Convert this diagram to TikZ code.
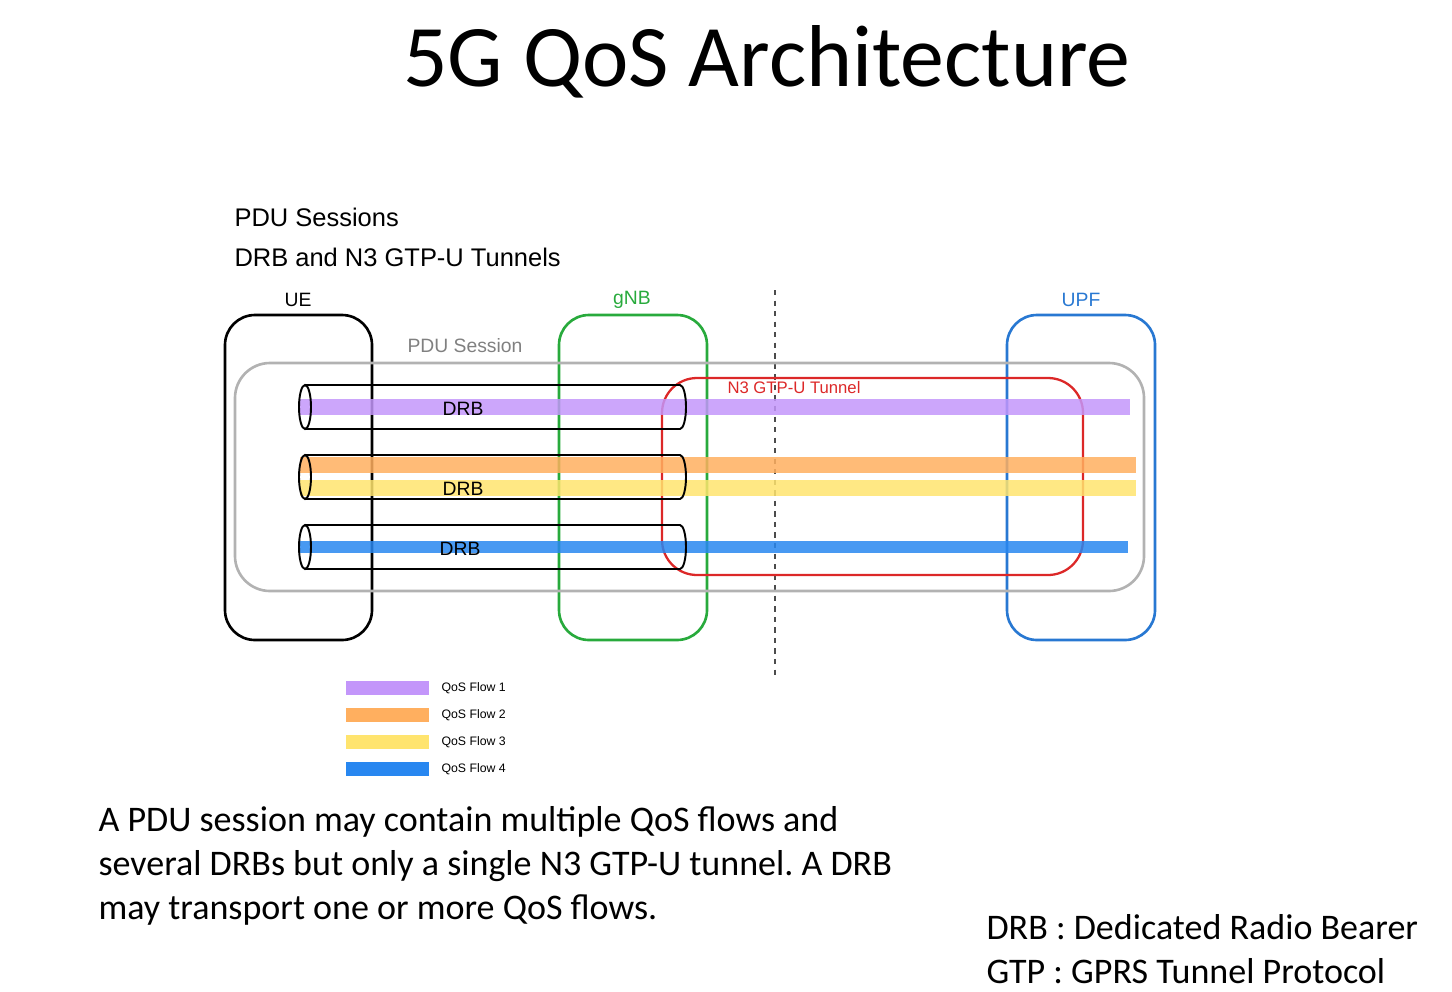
\documentclass[tikz,border=0pt]{standalone}
\usepackage{fontspec}
\setmainfont{Carlito}
\newfontfamily\diag{Liberation Sans}
\usetikzlibrary{positioning}
\definecolor{flowA}{RGB}{195,150,250}
\definecolor{flowB}{RGB}{255,175,95}
\definecolor{flowC}{RGB}{255,228,110}
\definecolor{flowD}{RGB}{40,135,240}
\definecolor{gnbgreen}{RGB}{40,170,60}
\definecolor{upfblue}{RGB}{40,120,210}
\definecolor{tunred}{RGB}{220,40,40}
\frenchspacing
\begin{document}
\begin{tikzpicture}[x={(0.02cm,0)},y={(0,-0.02cm)},thick,
      box/.style={draw,rounded corners=0.6cm,line width=1.5pt},
      lbl/.style={font=\diag\fontsize{11}{13}\selectfont},
      flow/.style={line width=9pt,opacity=0.85,line cap=butt},
      drb/.style={draw,line width=1.1pt},
      legend/.style={font=\diag\fontsize{7}{8}\selectfont,anchor=west}]
    \useasboundingbox (0,0) rectangle (1452,991);

    \node (title) at (767,62) {\fontsize{50}{56}\selectfont 5G QoS Architecture};
    \node[anchor=west,font=\diag\fontsize{14.5}{18}\selectfont] (sess) at (228,217) {PDU Sessions};
    \node[anchor=west,font=\diag\fontsize{14.5}{18}\selectfont] (tun) at (228,257) {DRB and N3 GTP-U Tunnels};

    % network entities
    \draw[box] (225,315) rectangle (372,640);
    \draw[box,gnbgreen] (559,315) rectangle (707,640);
    \draw[box,upfblue] (1007,315) rectangle (1155,640);
    \node[lbl] (ue) at (298,300) {UE};
    \node[lbl,gnbgreen] (gnb) at (632,300) {gNB};
    \node[lbl,upfblue] (upf) at (1081,300) {UPF};
    \draw[dashed,line width=1.2pt,black!70] (775,290) -- (775,678);

    % pdu session and tunnel
    \draw[gray!60,line width=1.5pt,rounded corners=0.7cm] (235,363) rectangle (1144,591);
    \node[lbl,gray] (pdu) at (465,346) {PDU Session};
    \draw[tunred,line width=1.3pt,rounded corners=0.7cm] (662,378) rectangle (1083,575);
    \node[lbl,tunred,font=\diag\fontsize{9.5}{11}\selectfont] (n3) at (794,388) {N3 GTP-U Tunnel};

    % qos flows
    \draw[flow,flowA] (300,407) -- (1130,407);
    \draw[flow,flowB] (300,465) -- (1136,465);
    \draw[flow,flowC] (300,488) -- (1136,488);
    \draw[flow,flowD,line width=7pt] (300,547) -- (1128,547);

    % drb pipes
    \foreach \yc in {407,477,547} {
      \draw[drb] (305,\yc-22) -- (680,\yc-22) arc (-90:90:6 and 22) -- (305,\yc+22);
      \draw[drb] (305,\yc) ellipse (6 and 22);
    }
    \node[lbl] (drb1) at (463,409) {DRB};
    \node[lbl] (drb2) at (463,489) {DRB};
    \node[lbl] (drb3) at (460,549) {DRB};

    % legend
    \foreach \yy/\cc/\k in {688/flowA/1,715/flowB/2,742/flowC/3,769/flowD/4} {
      \draw[\cc,line width=8pt] (346,\yy) -- (429,\yy);
      \node[legend] (leg\k) at (435,\yy) {QoS Flow \k};
    }

    \node[anchor=north west,align=left,font=\fontsize{20.5}{25}\selectfont] (note) at (92,800)
      {A PDU session may contain multiple QoS flows and\\several DRBs but only a single N3 GTP-U tunnel. A DRB\\may transport one or more QoS flows.};
    \node[anchor=north west,align=left,font=\fontsize{20.5}{25}\selectfont] (abbr) at (980,908)
      {DRB : Dedicated Radio Bearer\\GTP : GPRS Tunnel Protocol};
\end{tikzpicture}
\end{document}
